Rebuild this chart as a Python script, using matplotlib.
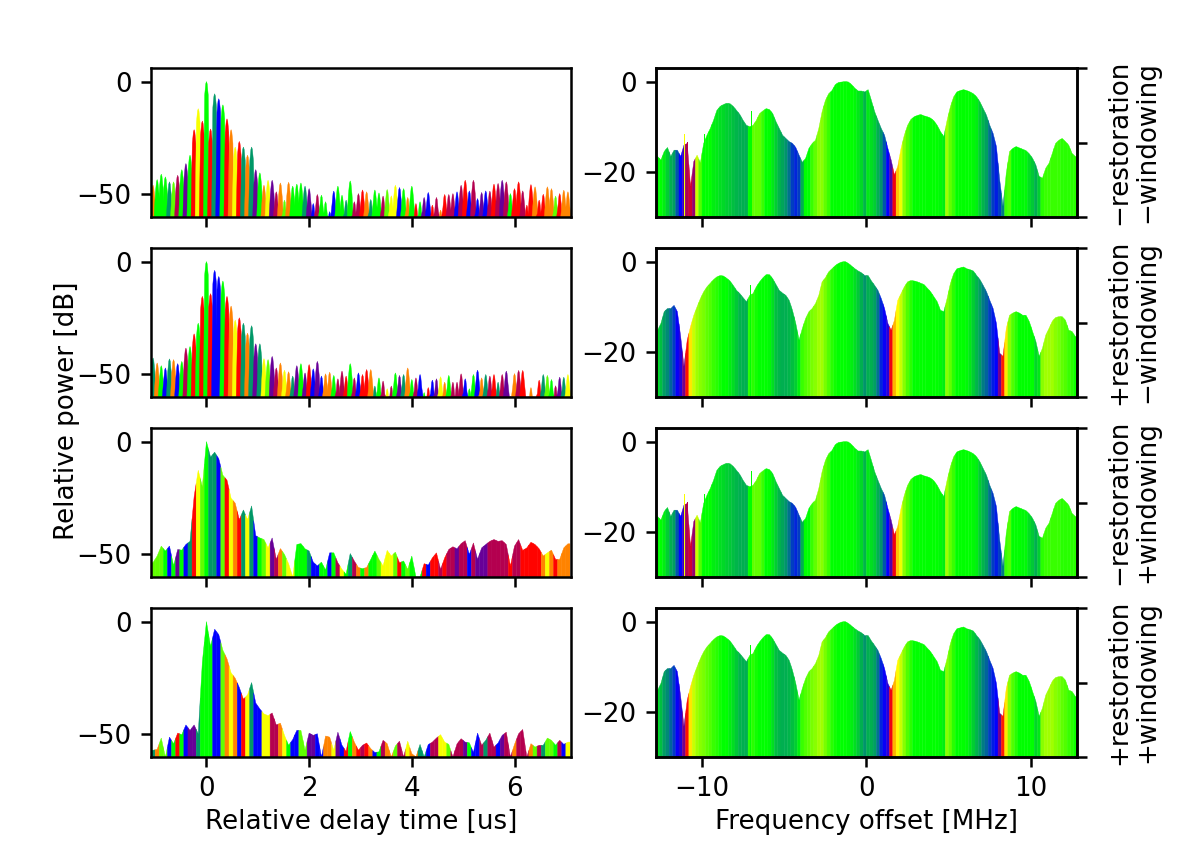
import numpy as np
import matplotlib
matplotlib.use("Agg")
import matplotlib.pyplot as plt
from matplotlib.colors import LinearSegmentedColormap

plt.rcParams["font.size"] = 9.4
plt.rcParams["axes.linewidth"] = 0.9
plt.rcParams["xtick.major.width"] = 0.9
plt.rcParams["ytick.major.width"] = 0.9

# phase colours
phase_cmap = LinearSegmentedColormap.from_list("phase", [
    (0.0, "#00ff00"), (0.125, "#009966"), (0.25, "#0000ff"), (0.375, "#660099"),
    (0.5, "#b30050"), (0.625, "#ff0000"), (0.75, "#ff8000"), (0.875, "#ffff00"),
    (1.0, "#00ff00")])
hue_codes = {"G": 0.0, "T": 0.125, "B": 0.25, "P": 0.375, "C": 0.5,
             "R": 0.625, "O": 0.75, "Y": 0.875, "L": 0.95}

row_labels = ["\u2212restoration\n\u2212windowing", "+restoration\n\u2212windowing",
              "\u2212restoration\n+windowing", "+restoration\n+windowing"]

# delay profiles, one value every 0.08 us from -1.04 us
delay_power_1 = [
    -45.9, -43.4, -41, -42.2, -44.4, -44.4, -41.5, -39, -36.3, -32.6,
    -21.3, -12, -17.5, 0, -21, -5.4, -7.6, -10.3, -16.5, -21.3,
    -29, -26.5, -29, -32.6, -29, -39, -40.4, -45.9, -43.7, -43.7,
    -48.8, -44.9, -52.5, -44.6, -46.3, -45.4, -44.9, -46.3, -47.4, -54,
    -50, -50.3, -53.2, -57.6, -48.5, -46.3, -50.3, -52.5, -44, -53.2,
    -49.6, -48, -48.8, -52.2, -48, -49.3, -50.7, -47.8, -50.6, -45.9,
    -46.9, -47.4, -51.3, -46.3, -54, -53.2, -51.3, -49.1, -54.7, -51.3,
    -56.9, -50, -50, -49.6, -48.8, -45.9, -43.7, -48.4, -43.7, -51.8,
    -49.1, -48.4, -48.5, -45.4, -45.1, -43.7, -44.4, -49.6, -47.4, -44.4,
    -48.4, -54.7, -45.6, -46.6, -52.5, -49.9, -46.6, -47.4, -50.7, -49.6,
    -48.1, -48.8]
delay_hue_1 = ("OGGGTLCGPG" "RYRGRTBGRO" "YRTOTPGOYP" "COLOGGGTPB" "CGGBBGGTGC"
               "CROTGGCLYY" "BGOGRGPBRC" "ORCCBCRBCB" "PBCRCPCGRR" "CRRORROOLR" "OO")

delay_power_2 = [
    -42.7, -44.9, -46.1, -47.1, -43.1, -43.4, -45.2, -44.2, -38.3, -37.6,
    -32, -27.3, -15.4, 0, -14.2, -3.9, -6.6, -8.6, -15.4, -19.7,
    -25.9, -24.9, -27.3, -31.7, -28.4, -36.4, -36.4, -43, -43.4, -42,
    -47.1, -44.9, -48.1, -48.8, -50.7, -46.1, -45.2, -49.3, -45.6, -47.5,
    -44.2, -50.7, -49.7, -49, -50.4, -51.9, -48.5, -50.7, -45.2, -51.5,
    -49.3, -50, -47.8, -47.8, -55.1, -51.5, -52.9, -56.3, -55.1, -49.3,
    -50.4, -50, -47.1, -52.2, -51.5, -50, -58, -55.8, -52.5, -51.9,
    -51, -53.4, -50.4, -53.4, -53.4, -49.7, -51.9, -56.3, -50, -48.1,
    -51.5, -50, -50.7, -50, -53.4, -50, -48.5, -59.8, -49.6, -48.2,
    -48.2, -60, -55.8, -60, -52.5, -50, -50.4, -52.2, -55, -51.2,
    -51.2, -50]
delay_hue_2 = ("TOGBTOBGCG" "RGRGRBBGRO" "YRTOTPTYLP" "COYOTPGPRB" "PBOOGCCRGC"
               "BRROTGCYCG" "PTOGCBGRBP" "YOGCCCBGGB" "OTCRTCPPOC" "RROORTLGCP" "TY")

delay_power_3 = [
    -53.6, -50.7, -46.3, -48.5, -46.3, -55, -47.8, -48.1, -45.6, -44.2,
    -24.4, -12.7, -20, 0, -6.9, -4.7, -7.6, -14.9, -17.1, -25.1,
    -27.3, -34.6, -30.3, -34.6, -28.5, -41.7, -42.7, -43.4, -47.1, -42.7,
    -52.2, -47.4, -50, -54.1, -60, -45.6, -45.2, -47.5, -48.5, -53.4,
    -55.1, -53.4, -56.9, -49.3, -49.3, -53.7, -56.6, -58.8, -49.6, -52.9,
    -55.8, -56.3, -55.8, -52.2, -48.5, -52.2, -55.1, -48.2, -50.7, -49,
    -53.7, -52.9, -56.6, -50.7, -60, -60, -54.1, -54.7, -51.5, -49.3,
    -56.6, -51.5, -47.8, -46.6, -47.5, -45.2, -43.9, -50, -44.9, -52.2,
    -47.1, -45.6, -44.2, -43.4, -44.2, -43.9, -45.6, -55.1, -46.3, -43.4,
    -48.2, -47.1, -44.6, -45.6, -47.5, -50.7, -49.3, -48.1, -52.2, -52.2,
    -47.1, -45.3]
delay_hue_3 = ("LLLGBGPGBT" "RYLGTTBLRY" "ORTYTBGLYP" "COLYYGGGTB" "BGGBGCYGTC"
               "OGOGGLYYYL" "RGLGGGRBRR" "CRCCPCCBCP" "PPCCCCCRCC" "RRRRROYORO" "OO")

delay_power_4 = [
    -57, -56.6, -51.6, -60, -51.2, -54.1, -49.4, -50.1, -45.8, -48.2,
    -45.8, -49.7, -18, 0, -11, -3.4, -5.8, -12.7, -16.5, -22.7,
    -25.1, -29.2, -34.4, -32.5, -27, -36.1, -38.7, -40.9, -41.7, -40.5,
    -45.8, -45, -50.4, -54.8, -52.3, -48.2, -48.2, -57, -49.4, -50.4,
    -49.7, -60, -50.7, -51.2, -57, -49, -54.8, -57.5, -48.7, -53.4,
    -57, -54.8, -53.8, -56.3, -58, -57.7, -52.6, -54.1, -60, -55.1,
    -53, -60, -53, -58.5, -60, -54.4, -60, -54.5, -53.4, -51.6,
    -50.1, -53.4, -54.4, -60, -54.2, -51.9, -53.4, -53.7, -58, -49.4,
    -54.8, -52.6, -49.4, -55.6, -53.8, -50.4, -49, -60, -54.4, -49.7,
    -47.8, -60, -54.1, -55.6, -54.8, -54.8, -51.6, -52.6, -54.8, -52.6,
    -54.4, -53.4]
delay_hue_4 = ("TOLLBGRGBP" "PTGGGBBLOY" "OBRYTBBYYC" "COYGBBLLPP" "BBOOYPBRGO"
               "RCROBGCOOL" "CCYOOTTBCC" "YYLCCCPGBB" "CTCCBPCCOC" "CCOLCTLLGC" "BY")

# spectra, one value every 0.2 MHz from -12.7 MHz
freq_power_1 = [
    -16.6, -17.4, -15.5, -14.6, -16.6, -15.2, -15.2, -16.6, -14.1, -13.7,
    -23.2, -17.7, -16.3, -18, -13.7, -11.9, -10.4, -8.6, -6.4, -5.5,
    -5.1, -4.8, -4.9, -5.5, -6.4, -7.3, -8.6, -9.7, -10, -9.7,
    -8.6, -7.1, -6.5, -6, -6.2, -7.1, -8.9, -10.4, -11.9, -12.6,
    -13.3, -13.7, -14.6, -16.3, -17.9, -17, -14.8, -13.7, -13, -10.4,
    -6.7, -4.2, -2.7, -2, -0.7, -0.2, -0.1, 0, -0.1, -0.7,
    -1.5, -2.1, -2.1, -2.3, -1.8, -4.2, -6.7, -8.6, -10.4, -11.9,
    -14.8, -17.4, -20.7, -18.8, -14.8, -11.9, -9.7, -8.4, -7.8, -7.5,
    -7.3, -7.6, -7.8, -8.1, -8.7, -9.7, -11.1, -12.2, -8.6, -5.6,
    -3.4, -2.3, -2, -1.8, -2, -2.3, -2.7, -3.4, -4.5, -6,
    -7.5, -9.7, -11.5, -14.4, -21.8, -27.6, -20.3, -15.5, -14.8, -14.4,
    -14.7, -15, -15.3, -16, -17, -18.5, -21, -21.4, -19.2, -18.1,
    -15.9, -13.7, -13, -12.6, -13.3, -14.1, -15.9, -16.6]
freq_phase_1 = [
    0, 0, .02, .06, .1, .12, .18, .25, .33, .5,
    .55, .45, .9, .96, 0, 0, 0, .02, .03, .04,
    .05, .06, .07, .08, .09, .1, .1, .1, 0, .95,
    .95, .95, .97, 0, 0, .03, .06, .09, .11, .13,
    .16, .2, .22, .2, .1, 0, 0, .97, .95, .93,
    .93, .95, .97, 0, 0, 0, 0, 0, 0, 0,
    .01, .03, .05, .09, .03, .04, .06, .1, .13, .18,
    .25, .35, .6, .82, .88, .93, .96, .98, 0, 0,
    0, 0, 0, 0, 0, 0, .01, .02, .92, .95,
    .97, 0, 0, 0, 0, 0, .01, .02, .06, .09,
    .12, .16, .2, .23, .2, .15, .97, .96, 0, 0,
    0, .01, .01, .04, .07, .1, .06, .98, .97, .97,
    .97, .97, .97, .98, .98, .98, .98, .98]

freq_power_2 = [
    -15.2, -13.7, -11.1, -10.4, -10.4, -9.7, -11.1, -16.6, -23.2, -17.4,
    -14.4, -11.9, -10, -8.2, -6.7, -5.6, -4.8, -4, -3.4, -3.1,
    -3.2, -3.7, -4.3, -5.3, -6.4, -7.1, -8, -8.9, -7.5, -7.1,
    -5.6, -4.5, -3.6, -2.9, -2.9, -3.8, -5.1, -6.4, -7, -7.5,
    -8.6, -10.8, -13.7, -17.4, -14.8, -12.6, -11.1, -10.4, -9.3, -7.5,
    -4.5, -3.6, -2.3, -1.6, -0.9, -0.4, -0.1, 0, -0.4, -1,
    -1.6, -2.1, -2.5, -3.1, -3.1, -4.3, -5.3, -6.4, -8.2, -10.4,
    -13.7, -15.2, -13, -8.6, -7.1, -5.6, -4.5, -4.2, -4.3, -4.5,
    -4.8, -5.1, -5.9, -6.7, -7.8, -8.9, -10.8, -11.1, -8.2, -4.9,
    -2.7, -1.6, -1.4, -1.2, -1.6, -1.8, -2.1, -3.1, -4, -5.3,
    -6.7, -8.6, -10.4, -13.7, -20.3, -21, -14.8, -11.9, -11.4, -11.1,
    -11.4, -11.9, -11.9, -13.3, -15.5, -17.7, -21, -19.2, -16.3, -14.8,
    -13.2, -12.4, -12.2, -12.2, -13, -15.2, -15.5, -16.6]
freq_phase_2 = [
    .04, .08, .12, .14, .17, .2, .26, .3, .4, .64,
    .85, .9, .92, .93, .94, .95, .96, .97, .98, .99,
    0, 0, .02, .04, .07, .09, .1, .1, .98, .98,
    .99, 0, 0, 0, .01, .04, .08, .09, .1, .1,
    .09, .08, .06, .02, .97, .96, .95, .94, .93, .92,
    .92, .94, .96, .98, .99, 0, 0, 0, .01, .02,
    .04, .07, .1, .13, .1, .1, .12, .16, .22, .26,
    .3, .6, .8, .87, .9, .93, .96, .98, 0, 0,
    0, 0, 0, 0, 0, 0, .01, .02, .93, .95,
    .98, 0, 0, 0, .01, .03, .06, .09, .12, .15,
    .17, .2, .23, .25, .4, .65, .85, .93, .96, .98,
    0, 0, 0, 0, 0, .05, .03, .93, .92, .92,
    .92, .93, .94, .95, .96, .97, .98, .99]

# narrow spikes that stick out of the spectra: frequency, power, phase
spikes_1 = ([-11.05, -10.9, -9.85, -7.0, 8.85], [-11.6, -13.3, -11.7, -6.5, -10.6], [.875, .5, 0, 0, 0])
spikes_2 = ([-7.05, 8.85, 8.6], [-5.3, -9.5, -12.0], [0, 0, .875])

delay_rows = [(delay_power_1, delay_hue_1, True), (delay_power_2, delay_hue_2, True),
              (delay_power_3, delay_hue_3, False), (delay_power_4, delay_hue_4, False)]
freq_rows = [(freq_power_1, freq_phase_1, spikes_1), (freq_power_2, freq_phase_2, spikes_2),
             (freq_power_1, freq_phase_1, spikes_1), (freq_power_2, freq_phase_2, spikes_2)]


def draw_lobes(ax, x, p, colors, bottom, step):
    half = step / 2
    for i in range(len(x)):
        left = (p[max(i - 1, 0)] + p[i]) / 2
        right = (p[min(i + 1, len(p) - 1)] + p[i]) / 2
        xs = [x[i] - half, x[i] - half, x[i], x[i] + half, x[i] + half]
        ys = [bottom, left, p[i], right, bottom]
        ax.fill(xs, ys, color=colors[i], lw=0.15)


def draw_delay(ax, power, hues, spiky):
    t = -1.04 + 0.08 * np.arange(len(power))
    p = np.array(power, dtype=float)
    colors = [phase_cmap(hue_codes[h]) for h in hues]
    if spiky:
        # separate narrow peaks
        for i in range(len(t)):
            xs = [t[i] - 0.06, t[i] - 0.035, t[i] - 0.014, t[i], t[i] + 0.014, t[i] + 0.035, t[i] + 0.06]
            ys = [-60, p[i] - 6, p[i] - 1, p[i], p[i] - 1, p[i] - 6, -60]
            ax.fill(xs, ys, color=colors[i], lw=0.15)
    else:
        draw_lobes(ax, t, p, colors, -60, 0.08)
    ax.set_xlim(-1.08, 7.1)
    ax.set_ylim(-60, 6)
    ax.set_xticks([0, 2, 4, 6])
    ax.set_yticks([-50, 0])


def draw_freq(ax, power, phase, spikes):
    f = -12.7 + 0.2 * np.arange(len(power))
    p = np.array(power, dtype=float)
    draw_lobes(ax, f, p, phase_cmap(phase), -30, 0.2)
    sf, sp, sc = spikes
    ax.bar(sf, np.array(sp) + 30, bottom=-30, width=0.05, color=phase_cmap(sc), linewidth=0)
    ax.set_xlim(-12.8, 12.8)
    ax.set_ylim(-30, 3)
    ax.set_xticks([-10, 0, 10])
    ax.set_yticks([-20, 0])


W, H = 1196, 849
fig = plt.figure(figsize=(W / 200, H / 200), dpi=200)

for r in range(4):
    top = 68 + 180 * r
    ax_l = fig.add_axes([151 / W, 1 - (top + 149) / H, 420 / W, 149 / H])
    ax_r = fig.add_axes([656 / W, 1 - (top + 149) / H, 421 / W, 149 / H])
    draw_delay(ax_l, *delay_rows[r])
    draw_freq(ax_r, *freq_rows[r])

    twin = ax_r.twinx()
    twin.set_ylim(0, 1)
    twin.set_yticks([0, 0.5, 1])
    twin.set_yticklabels([])
    twin.set_ylabel(row_labels[r], labelpad=3.5, linespacing=1.1)

    if r < 3:
        ax_l.set_xticklabels([])
        ax_r.set_xticklabels([])
    else:
        ax_l.set_xlabel("Relative delay time [us]", labelpad=2.5)
        ax_r.set_xlabel("Frequency offset [MHz]", labelpad=2.5)

fig.text(67 / W, 1 - 411 / H, "Relative power [dB]", rotation=90, ha="center", va="center")

fig.savefig("out.png", dpi=200)
